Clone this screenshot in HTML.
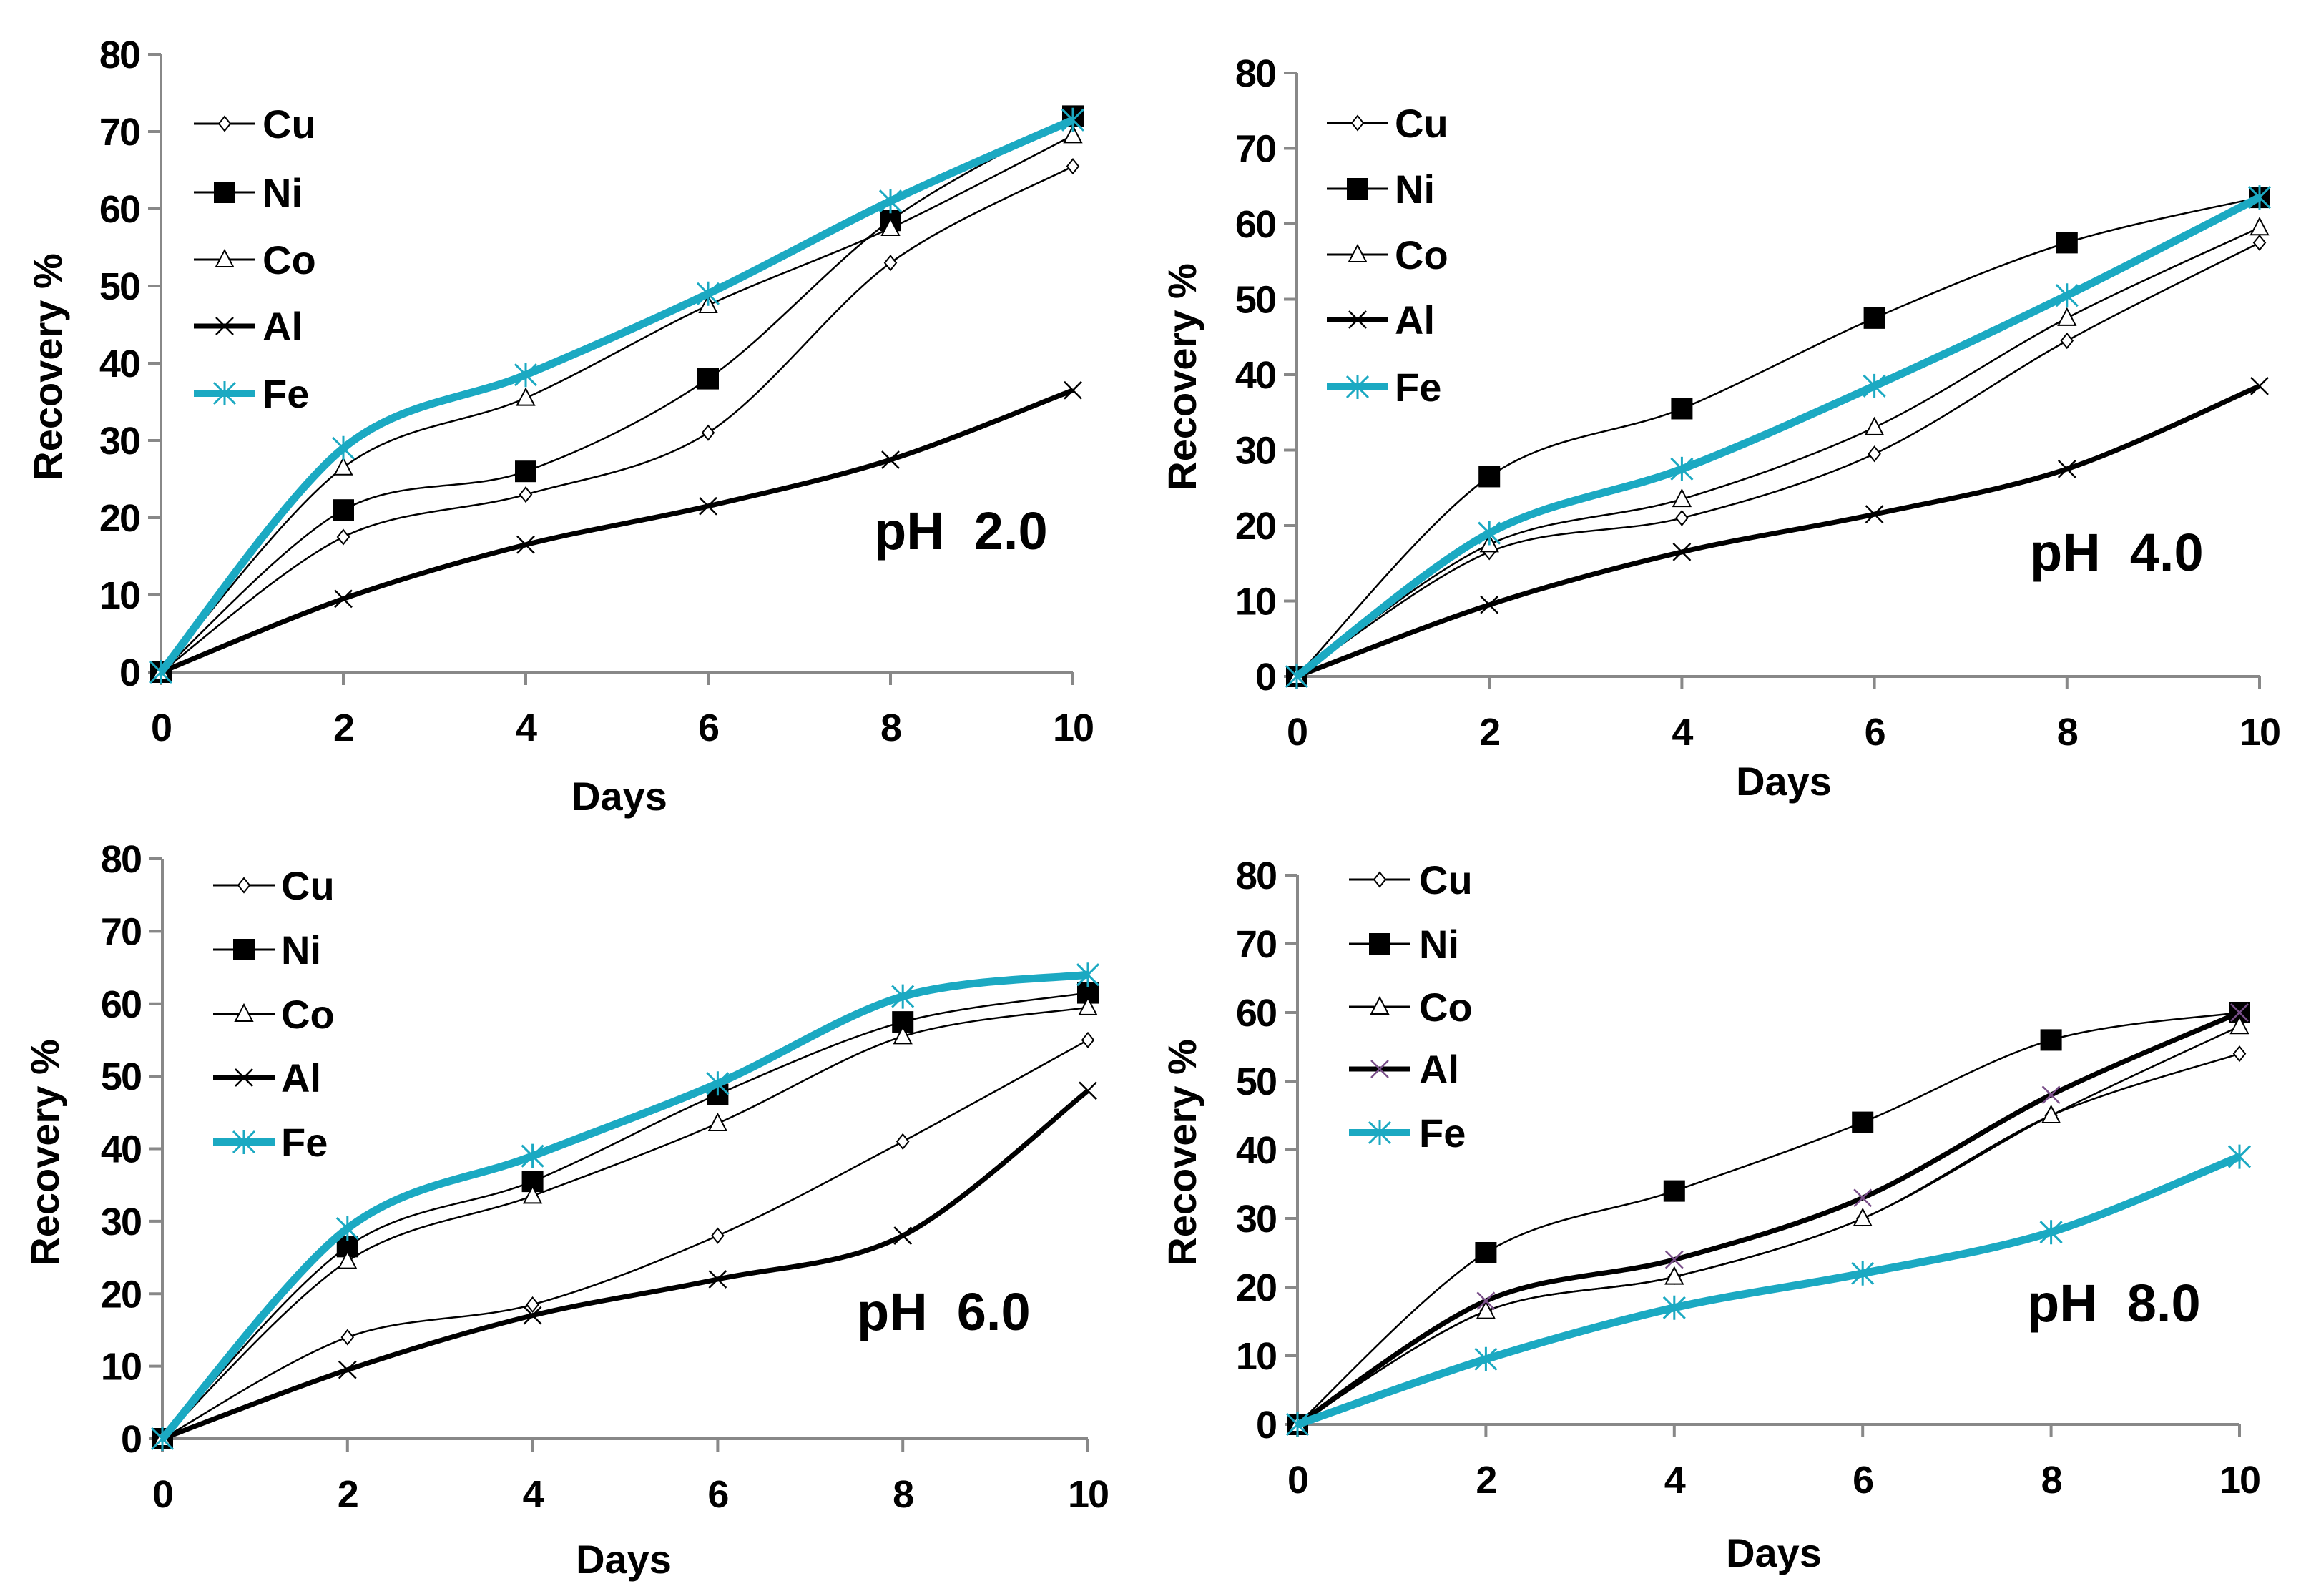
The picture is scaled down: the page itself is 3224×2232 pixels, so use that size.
<!DOCTYPE html>
<html><head><meta charset="utf-8"><style>
html,body{margin:0;padding:0;background:#fff}
svg{display:block}
text{font-family:"Liberation Sans",sans-serif;font-weight:bold;fill:#000;white-space:pre}
</style></head><body>
<svg id="c" width="3224" height="2232" viewBox="0 0 3224 2232" xmlns="http://www.w3.org/2000/svg"></svg>
<script>
const days = [0, 2, 4, 6, 8, 10];
const yTicks = [0, 10, 20, 30, 40, 50, 60, 70, 80];
const xTicks = [0, 2, 4, 6, 8, 10];
const metals = ["Cu", "Ni", "Co", "Al", "Fe"];
const ph2Cu = [0, 17.5, 23, 31, 53, 65.5];
const ph2Ni = [0, 21, 26, 38, 58.5, 72];
const ph2Co = [0, 26.5, 35.5, 47.5, 57.5, 69.5];
const ph2Al = [0, 9.5, 16.5, 21.5, 27.5, 36.5];
const ph2Fe = [0, 29, 38.5, 49, 61, 71.5];
const ph4Cu = [0, 16.5, 21, 29.5, 44.5, 57.5];
const ph4Ni = [0, 26.5, 35.5, 47.5, 57.5, 63.5];
const ph4Co = [0, 17.5, 23.5, 33, 47.5, 59.5];
const ph4Al = [0, 9.5, 16.5, 21.5, 27.5, 38.5];
const ph4Fe = [0, 19, 27.5, 38.5, 50.5, 63.5];
const ph6Cu = [0, 14, 18.5, 28, 41, 55];
const ph6Ni = [0, 26.5, 35.5, 47.5, 57.5, 61.5];
const ph6Co = [0, 24.5, 33.5, 43.5, 55.5, 59.5];
const ph6Al = [0, 9.5, 17, 22, 28, 48];
const ph6Fe = [0, 29, 39, 49, 61, 64];
const ph8Cu = [0, 16.5, 21.5, 30, 45, 54];
const ph8Ni = [0, 25, 34, 44, 56, 60];
const ph8Co = [0, 16.5, 21.5, 30, 45, 58];
const ph8Al = [0, 18, 24, 33, 48, 60];
const ph8Fe = [0, 9.5, 17, 22, 28, 39];

const NS = "http://www.w3.org/2000/svg";
const svg = document.getElementById("c");
function mk(tag, attrs, parent) {
  const e = document.createElementNS(NS, tag);
  for (const k in attrs) e.setAttribute(k, attrs[k]);
  (parent || svg).appendChild(e);
  return e;
}
const TEAL = "#1BA9C2";
const panels = [
  {id:"ph2", label:"pH  2.0", x0:225, x1:1500, y0:940, y1:76, data:[ph2Cu,ph2Ni,ph2Co,ph2Al,ph2Fe],
   leg:{lx:271, tx:367, ys:[173,269,363,456,550]}, ph:[1222,768], yt:[66,513], dt:[866,1133]},
  {id:"ph4", label:"pH  4.0", x0:1813, x1:3159, y0:946, y1:102, data:[ph4Cu,ph4Ni,ph4Co,ph4Al,ph4Fe],
   leg:{lx:1855, tx:1950, ys:[172,264,356,447,541]}, ph:[2838,798], yt:[1652,527], dt:[2494,1112]},
  {id:"ph6", label:"pH  6.0", x0:227, x1:1521, y0:2012, y1:1201, data:[ph6Cu,ph6Ni,ph6Co,ph6Al,ph6Fe],
   leg:{lx:298, tx:393, ys:[1238,1328,1418,1507,1597]}, ph:[1198,1860], yt:[62,1612], dt:[872,2200]},
  {id:"ph8", label:"pH  8.0", x0:1814, x1:3131, y0:1992, y1:1224, data:[ph8Cu,ph8Ni,ph8Co,ph8Al,ph8Fe],
   leg:{lx:1886, tx:1984, ys:[1230,1320,1408,1495,1584]}, ph:[2834,1848], yt:[1652,1612], dt:[2480,2191]}
];
function styleFor(m, pid) {
  if (m === "Fe") return {stroke:TEAL, w:11};
  if (m === "Al") return {stroke:"#000", w:7};
  return {stroke:"#000", w:2.5};
}
function marker(m, x, y, g, pid) {
  if (m === "Cu") mk("path",{d:`M${x} ${y-10}L${x+8} ${y}L${x} ${y+10}L${x-8} ${y}Z`,fill:"#fff",stroke:"#000","stroke-width":2},g);
  else if (m === "Ni") mk("rect",{x:x-15,y:y-15,width:30,height:30,fill:"#000"},g);
  else if (m === "Co") mk("path",{d:`M${x} ${y-13}L${x+12} ${y+10}L${x-12} ${y+10}Z`,fill:"#fff",stroke:"#000","stroke-width":2},g);
  else if (m === "Al") { const c = pid==="ph8"?"#7a4f8a":"#000"; mk("path",{d:`M${x-12} ${y-12}L${x+12} ${y+12}M${x-12} ${y+12}L${x+12} ${y-12}`,stroke:c,"stroke-width":2.5},g); }
  else mk("path",{d:`M${x-15} ${y-15}L${x+15} ${y+15}M${x-15} ${y+15}L${x+15} ${y-15}M${x} ${y-17}L${x} ${y+17}`,stroke:TEAL,"stroke-width":3},g);
}
function smooth(pts) {
  let d = `M${pts[0][0]} ${pts[0][1]}`;
  const t = 0.16;
  for (let i = 0; i < pts.length-1; i++) {
    const p0 = pts[Math.max(i-1,0)], p1 = pts[i], p2 = pts[i+1], p3 = pts[Math.min(i+2,pts.length-1)];
    const c1 = [p1[0]+(p2[0]-p0[0])*t, p1[1]+(p2[1]-p0[1])*t];
    const c2 = [p2[0]-(p3[0]-p1[0])*t, p2[1]-(p3[1]-p1[1])*t];
    d += `C${c1[0]} ${c1[1]} ${c2[0]} ${c2[1]} ${p2[0]} ${p2[1]}`;
  }
  return d;
}
panels.forEach(p => {
  const g = mk("g",{});
  
  
  const sx = v => p.x0 + (v/10)*(p.x1-p.x0);
  const sy = v => p.y0 - (v/80)*(p.y0-p.y1);
  const ax = mk("path",{d:`M${p.x0} ${p.y1}L${p.x0} ${p.y0}L${p.x1} ${p.y0}`,stroke:"#888","stroke-width":4,fill:"none"},g);
  
  
  yTicks.forEach(v => {
    mk("line",{x1:p.x0-18,x2:p.x0,y1:sy(v),y2:sy(v),stroke:"#888","stroke-width":4},g);
    const t = mk("text",{x:p.x0-30,y:sy(v)+19,"text-anchor":"end","font-size":54,"letter-spacing":-2},g);
    t.textContent = v;
    
    
  });
  xTicks.forEach(v => {
    mk("line",{x1:sx(v),x2:sx(v),y1:p.y0,y2:p.y0+18,stroke:"#888","stroke-width":4},g);
    const t = mk("text",{x:sx(v),y:p.y0+96,"text-anchor":"middle","font-size":54,"letter-spacing":-2},g);
    t.textContent = v;
    
    
  });
  const yt = mk("text",{x:0,y:0,"text-anchor":"middle","font-size":56,transform:`translate(${p.yt[0]+20},${p.yt[1]}) rotate(-90)`},g);
  yt.textContent = "Recovery %";
  
  
  const dt = mk("text",{x:p.dt[0],y:p.dt[1],"text-anchor":"middle","font-size":56},g);
  dt.textContent = "Days";
  
  
  const ph = mk("text",{x:p.ph[0],y:p.ph[1],"font-size":74},g);
  ph.textContent = p.label;
  
  
  [0,1,2,3,4].forEach(i => {
    const m = metals[i], s = styleFor(m, p.id);
    const sg = mk("g",{},g);
    
    
    const pts = days.map((d,k) => [sx(d), sy(p.data[i][k])]);
    mk("path",{d:smooth(pts),stroke:s.stroke,"stroke-width":s.w,fill:"none","stroke-linejoin":"round"},sg);
    pts.forEach(pt => marker(m, pt[0], pt[1], sg, p.id));
  });
  metals.forEach((m,i) => {
    const s = styleFor(m, p.id);
    const lg = mk("g",{},g);
    
    
    const y = p.leg.ys[i];
    mk("line",{x1:p.leg.lx,x2:p.leg.lx+86,y1:y,y2:y,stroke:s.stroke,"stroke-width":m==="Fe"?10:(m==="Al"?7:3)},lg);
    marker(m, p.leg.lx+43, y, lg, p.id);
    const t = mk("text",{x:p.leg.tx,y:y+20,"font-size":56},lg);
    t.textContent = m;
  });
});
</script>
</body></html>
